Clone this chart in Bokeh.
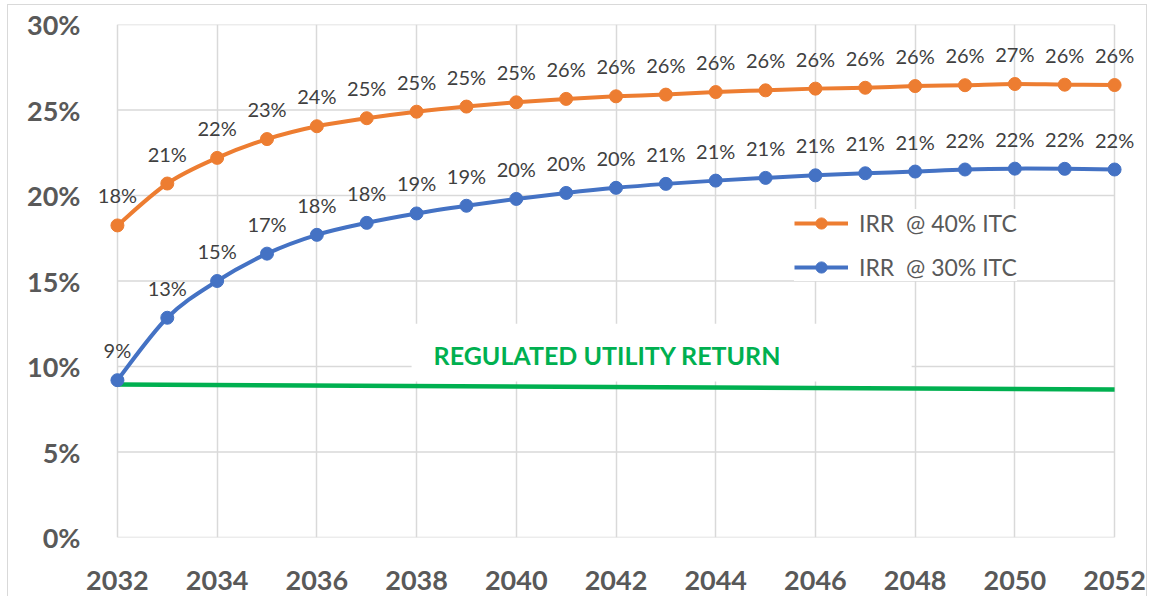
import numpy as np
from bokeh.plotting import figure
from bokeh.models import (Legend, LegendItem, LabelSet, ColumnDataSource, BoxAnnotation,
                          Label, FixedTicker, PrintfTickFormatter, Range1d)
from bokeh.embed import file_html
from bokeh.resources import INLINE
from bokeh.core.properties import value

# ---------------- data ----------------
years = list(range(2032, 2053))
irr_40 = [18.25, 20.7, 22.2, 23.3, 24.05, 24.52, 24.9, 25.2, 25.45, 25.65, 25.8,
          25.9, 26.05, 26.15, 26.25, 26.3, 26.4, 26.45, 26.52, 26.48, 26.46]
irr_30 = [9.2, 12.85, 15.0, 16.6, 17.7, 18.4, 18.95, 19.4, 19.8, 20.15, 20.45,
          20.68, 20.87, 21.03, 21.18, 21.3, 21.4, 21.52, 21.57, 21.56, 21.52]
reg_years = [2032, 2052]
reg_return = [8.95, 8.65]
x_ticks = list(range(2032, 2053, 2))
y_ticks = [0, 5, 10, 15, 20, 25, 30]
series_names = ["IRR  @ 40% ITC", "IRR  @ 30% ITC"]
reg_label = "REGULATED UTILITY RETURN"

ORANGE = "#ED7D31"
BLUE = "#4472C4"
GREEN = "#00B050"
GRID = "#D9D9D9"
AXIS_TXT = "#595959"
LBL_TXT = "#404040"
FONT = "Lato"


def bezier_segments(xs, ys):
    """Catmull-Rom style smoothing (like Excel's smoothed line) -> cubic bezier params."""
    x = np.asarray(xs, dtype=float)
    y = np.asarray(ys, dtype=float)
    n = len(x)
    xp = np.concatenate([[x[0]], x, [x[-1]]])
    yp = np.concatenate([[y[0]], y, [y[-1]]])
    i = np.arange(n - 1)
    x0, y0 = xp[i], yp[i]
    x1, y1 = xp[i + 1], yp[i + 1]
    x2, y2 = xp[i + 2], yp[i + 2]
    x3, y3 = xp[i + 3], yp[i + 3]
    return dict(x0=x1, y0=y1, x1=x2, y1=y2,
                cx0=x1 + (x2 - x0) / 6.0, cy0=y1 + (y2 - y0) / 6.0,
                cx1=x2 - (x3 - x1) / 6.0, cy1=y2 - (y3 - y1) / 6.0)


p = figure(width=1140, height=592,
           x_range=Range1d(years[0] - 0.5, years[-1] + 0.5), y_range=Range1d(0, 30),
           output_backend="svg", toolbar_location=None,
           min_border_left=84, min_border_right=9,
           min_border_top=19, min_border_bottom=60)
p.styles = {"border-top": "1px solid #D9D9D9", "border-left": "1px solid #D9D9D9",
            "border-right": "1px solid #D9D9D9", "margin-left": "7px", "margin-top": "4px"}
p.background_fill_color = "white"
p.border_fill_color = "white"
p.outline_line_color = None

# axes
p.xaxis.ticker = FixedTicker(ticks=x_ticks)
p.yaxis.ticker = FixedTicker(ticks=y_ticks)
p.yaxis.formatter = PrintfTickFormatter(format="%d%%")
for ax in (p.xaxis[0], p.yaxis[0]):
    ax.axis_line_color = None
    ax.major_tick_line_color = None
    ax.minor_tick_line_color = None
    ax.major_label_text_font = FONT
    ax.major_label_text_font_style = "bold"
    ax.major_label_text_font_size = "27px"
    ax.major_label_text_color = AXIS_TXT
p.xaxis.major_label_standoff = 27
p.yaxis.major_label_standoff = 6

# vertical grid from the axis; horizontal grid limited to the year span
p.xgrid.grid_line_color = GRID
p.xgrid.grid_line_width = 1.5
p.ygrid.visible = False
p.segment(x0=[years[0]] * len(y_ticks), x1=[years[-1]] * len(y_ticks),
          y0=y_ticks, y1=y_ticks, line_color=GRID, line_width=1.5, level="underlay")

# regulated utility return line
p.line(reg_years, reg_return, line_color=GREEN, line_width=4.5)

renderers = {}
for name, vals, col in ((series_names[0], irr_40, ORANGE), (series_names[1], irr_30, BLUE)):
    seg = ColumnDataSource(bezier_segments(years, vals))
    bz = p.bezier(x0="x0", y0="y0", x1="x1", y1="y1", cx0="cx0", cy0="cy0",
                  cx1="cx1", cy1="cy1", source=seg, line_color=col, line_width=4)
    sc = p.scatter(years, vals, size=13, fill_color=col, line_color=col)
    renderers[name] = [bz, sc]
    lsrc = ColumnDataSource(dict(x=years, y=vals,
                                 t=[f"{int(v + 0.5)}%" for v in vals]))
    p.add_layout(LabelSet(x="x", y="y", text="t", source=lsrc, y_offset=30,
                          text_align="center", text_baseline="middle",
                          text_font=value(FONT), text_font_size=value("20px"),
                          text_color=LBL_TXT))

# white box + regulated label
p.add_layout(BoxAnnotation(left=2037.9, right=2047.93, bottom=9.12, top=12.5,
                           fill_color="white", fill_alpha=1.0, line_color=None))
p.add_layout(Label(x=2041.83, y=10.7, text=reg_label, text_align="center",
                   text_baseline="middle", text_font=FONT, text_font_style="bold",
                   text_font_size="25px", text_color=GREEN))

legend = Legend(items=[LegendItem(label=n, renderers=renderers[n]) for n in series_names],
                location=(702, 256), orientation="vertical",
                glyph_width=54, glyph_height=28, label_height=28, spacing=16,
                padding=5, margin=0, label_standoff=11,
                label_text_font=FONT, label_text_font_size="23px",
                label_text_color=AXIS_TXT, border_line_color=None,
                background_fill_color="white", background_fill_alpha=1.0)
p.add_layout(legend)

open("out.html", "w").write(file_html(p, INLINE))
